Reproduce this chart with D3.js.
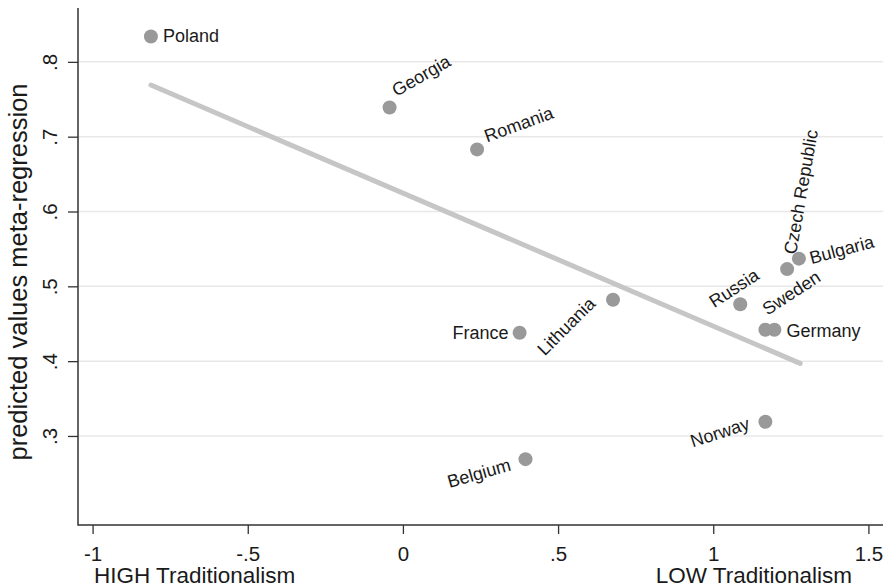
<!DOCTYPE html>
<html>
<head>
<meta charset="utf-8">
<script src="https://cdn.jsdelivr.net/npm/d3@7"></script>
<style>
  html, body { margin: 0; padding: 0; background: #fff; }
  svg { display: block; font-family: "Liberation Sans", Arial, Helvetica, sans-serif; }
</style>
</head>
<body>
<svg id="chart" width="888" height="587"></svg>
<script>
// ---- data ----
const countries = ["Poland","Georgia","Romania","Lithuania","Russia","Czech Republic","Bulgaria","Sweden","Germany","France","Belgium","Norway"];
const traditionalism = [-0.812, -0.043, 0.239, 0.677, 1.087, 1.238, 1.276, 1.168, 1.197, 0.376, 0.395, 1.168];
const predicted = [0.834, 0.739, 0.683, 0.482, 0.476, 0.523, 0.537, 0.442, 0.442, 0.438, 0.269, 0.319];

const fitX = [-0.812, 1.28];
const fitY = [0.769, 0.397];

const xTicks = [-1, -0.5, 0, 0.5, 1, 1.5];
const xTickLabels = ["-1", "-.5", "0", ".5", "1", "1.5"];
const yTicks = [0.3, 0.4, 0.5, 0.6, 0.7, 0.8];
const yTickLabels = [".3", ".4", ".5", ".6", ".7", ".8"];

const yTitle = "predicted values meta-regression";
const xTitleLeft = "HIGH Traditionalism";
const xTitleRight = "LOW Traditionalism";

// label placement (style): offset from marker in px, angle, anchor
const labelStyle = {
  "Poland":         {dx: 12,    dy: 6,    a: 0,   anchor: "start"},
  "Georgia":        {dx: 7,     dy: -10.5, a: -30, anchor: "start"},
  "Romania":        {dx: 10,    dy: -7,   a: -20, anchor: "start"},
  "Lithuania":      {dx: -16.5, dy: 5,    a: -45, anchor: "end"},
  "Russia":         {dx: -26,   dy: 4,    a: -33, anchor: "start"},
  "Czech Republic": {dx: 9,     dy: -14,  a: -80, anchor: "start"},
  "Bulgaria":       {dx: 12.5,  dy: 5.5,  a: -15, anchor: "start"},
  "Sweden":         {dx: 2,     dy: -14,  a: -33, anchor: "start"},
  "Germany":        {dx: 12,    dy: 7,    a: 0,   anchor: "start"},
  "France":         {dx: -11,   dy: 6.5,  a: 0,   anchor: "end"},
  "Belgium":        {dx: -13.5, dy: 11,   a: -16, anchor: "end"},
  "Norway":         {dx: -14.5, dy: 7,    a: -18, anchor: "end"}
};

// ---- drawing ----
const svg = d3.select("#chart");
svg.append("rect").attr("width", 888).attr("height", 587).attr("fill", "#fff");

const pLeft = 78, pRight = 883, pTop = 8, pBottom = 525;
const x = d3.scaleLinear().domain([-1.047, 1.547]).range([pLeft, pRight]);
const y = d3.scaleLinear().domain([0.181, 0.872]).range([pBottom, pTop]);

// gridlines
svg.append("g").selectAll("line").data(yTicks).join("line")
  .attr("x1", pLeft).attr("x2", pRight)
  .attr("y1", d => y(d)).attr("y2", d => y(d))
  .attr("stroke", "#e8e8e8").attr("stroke-width", 1.5);

// axes
const xAxis = svg.append("g").attr("transform", `translate(0,${pBottom})`)
  .call(d3.axisBottom(x).tickValues(xTicks)
    .tickFormat((d, i) => xTickLabels[i]).tickSize(9).tickPadding(12.5).tickSizeOuter(0));
xAxis.select(".domain").remove();
xAxis.selectAll(".tick line").attr("stroke", "#333").attr("stroke-width", 1.3);
xAxis.selectAll(".tick text").attr("font-size", 20.5).attr("fill", "#1a1a1a")
  .attr("font-family", "'Liberation Sans', Arial, sans-serif");

const yAxis = svg.append("g").attr("transform", `translate(${pLeft},0)`)
  .call(d3.axisLeft(y).tickValues(yTicks)
    .tickFormat((d, i) => yTickLabels[i]).tickSize(10).tickSizeOuter(0));
yAxis.select(".domain").remove();
yAxis.selectAll(".tick line").attr("stroke", "#333").attr("stroke-width", 1.3);
yAxis.selectAll(".tick text")
  .attr("transform", "rotate(-90)")
  .attr("x", 0).attr("y", -21).attr("dy", 0)
  .attr("text-anchor", "middle")
  .attr("font-size", 20.5).attr("fill", "#1a1a1a")
  .attr("font-family", "'Liberation Sans', Arial, sans-serif");

// axis lines (L shape)
svg.append("path")
  .attr("d", `M${pLeft},${pTop}V${pBottom}H${pRight}`)
  .attr("fill", "none").attr("stroke", "#333").attr("stroke-width", 1.5);

// fitted line
svg.append("line")
  .attr("x1", x(fitX[0])).attr("y1", y(fitY[0]))
  .attr("x2", x(fitX[1])).attr("y2", y(fitY[1]))
  .attr("stroke", "#c6c6c6").attr("stroke-width", 5).attr("stroke-linecap", "round");

// points
const pts = countries.map((c, i) => ({name: c, x: traditionalism[i], y: predicted[i]}));
svg.append("g").selectAll("circle").data(pts).join("circle")
  .attr("cx", d => x(d.x)).attr("cy", d => y(d.y)).attr("r", 7)
  .attr("fill", "#999");

// labels
svg.append("g").selectAll("text").data(pts).join("text")
  .attr("transform", d => {
    const s = labelStyle[d.name];
    return `translate(${x(d.x) + s.dx},${y(d.y) + s.dy}) rotate(${s.a})`;
  })
  .attr("text-anchor", d => labelStyle[d.name].anchor)
  .attr("font-size", 18).attr("fill", "#1a1a1a")
  .text(d => d.name);

// titles
svg.append("text")
  .attr("transform", `translate(27,272) rotate(-90)`)
  .attr("text-anchor", "middle").attr("font-size", 25.5).attr("fill", "#1a1a1a")
  .text(yTitle);
svg.append("text").attr("x", 94).attr("y", 583)
  .attr("text-anchor", "start").attr("font-size", 22.5).attr("fill", "#1a1a1a")
  .text(xTitleLeft);
svg.append("text").attr("x", 852).attr("y", 583)
  .attr("text-anchor", "end").attr("font-size", 22.5).attr("fill", "#1a1a1a")
  .text(xTitleRight);
</script>
</body>
</html>
